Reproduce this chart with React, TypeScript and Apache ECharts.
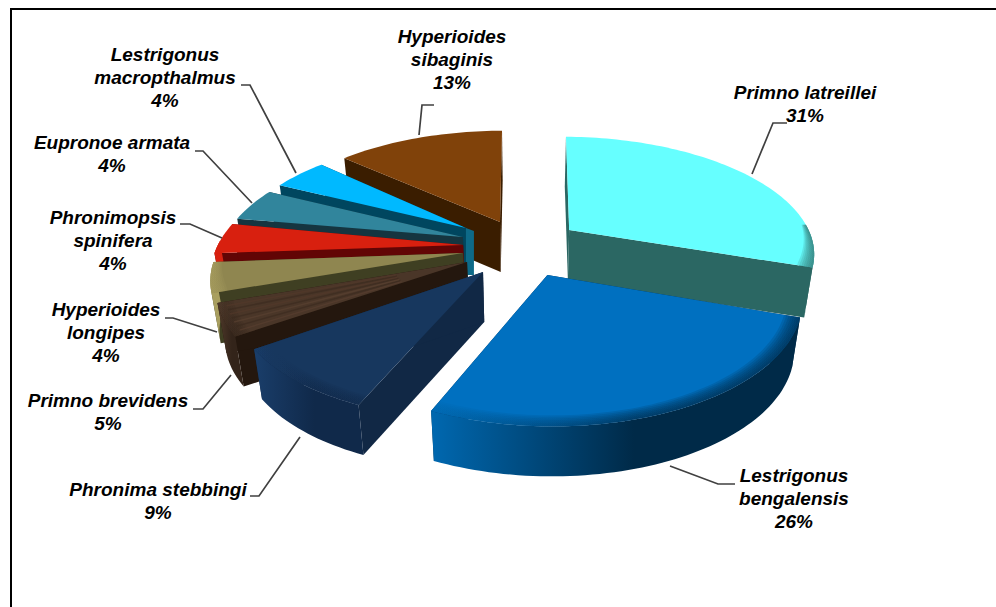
import React, { useEffect, useRef } from "react";
import * as echarts from "echarts";

const categories = [
  "Primno latreillei", "Lestrigonus\nbengalensis", "Phronima stebbingi", "Primno brevidens",
  "Hyperioides\nlongipes", "Phronimopsis\nspinifera", "Eupronoe armata",
  "Lestrigonus\nmacropthalmus", "Hyperioides\nsibaginis",
];
const shares = [31, 26, 9, 5, 4, 4, 4, 4, 13];

// drawing look, one entry per slice: [top face, radial wall, outer wall left, outer wall right]
const faceColors = [
  ["#66ffff", "#2b6763", "#2b6763", "#2b6763"],
  ["#0070c0", "#003050", "#0068b0", "#002a48"],
  ["#17375e", "#112845", "#1a3e6a", "#10294a"],
  ["#4a3628", "#24170e", "#4f3a2a", "#33241a"],
  ["#8f8650", "#3f3f22", "#a99f60", "#a99f60"],
  ["#d8200f", "#620505", "#d8200f", "#d8200f"],
  ["#31859c", "#153540", "#31859c", "#31859c"],
  ["#00b9ff", "#00465f", "#00b9ff", "#00b9ff"],
  ["#80420a", "#3a1d00", "#80420a", "#80420a"],
];
// back-to-front painting rank per slice
const zOrder = [2, 9, 8, 7, 6, 5, 4, 3, 1];
// exploded slice apex on the ground plane, in radii
const explode = [
  [0.19, 0.18], [0.09, -0.21], [-0.169, -0.187], [-0.237, -0.103],
  [-0.257, -0.026], [-0.26, 0.044], [-0.264, 0.116], [-0.255, 0.2], [-0.109, 0.257],
];
// per-slice radius and small angular corrections (degrees) of the drawn 3D model
const radiusScale = [1.03, 1.0, 0.985, 1.0, 1.02, 1.03, 1.012, 0.984, 1.032];
const angleFix = [
  [1, -2.9], [-2.6, -1.5], [-2, -2.6], [-2, -4.6],
  [-4.4, -4.3], [-4, -3.6], [-4.6, -2.7], [-2.7, -0.7], [-1.6, -0.5],
];
const CAM = { cx: 525, cy: 250, R: 240, S: 114, k: 0.18, m: 0.03, H: 50 };

function project(gx: number, gy: number, h: number) {
  const w = 1 + CAM.k * gy;
  return [CAM.cx + (CAM.R * gx) / w / (1 + CAM.m * h), CAM.cy - (CAM.S * gy) / w + CAM.H * h];
}

const labelLayout = [
  { x: 805, y: 93, line: [[787, 123], [773, 123], [752, 174]] },
  { x: 794, y: 476, line: [[735, 484], [718, 484], [670, 466]] },
  { x: 158, y: 490, line: [[250, 496], [259, 496], [300, 437]] },
  { x: 108, y: 401, line: [[193, 409], [203, 409], [231, 375]] },
  { x: 106, y: 310, line: [[165, 318], [173, 318], [217, 332]] },
  { x: 113, y: 218, line: [[180, 224], [190, 224], [222, 238]] },
  { x: 112, y: 143, line: [[195, 151], [203, 151], [252, 203]] },
  { x: 165, y: 55, line: [[241, 85], [250, 85], [296, 173]] },
  { x: 452, y: 37, line: [[434, 105], [422, 105], [419, 135]] },
];

const total = shares.reduce((a, b) => a + b, 0);

function renderSlice(params: any, api: any) {
  const i = api.value(0);
  const before = shares.slice(0, i).reduce((a, b) => a + b, 0);
  const a0 = (((before / total) * 360 + angleFix[i][0]) * Math.PI) / 180;
  const a1 = ((((before + api.value(1)) / total) * 360 + angleFix[i][1]) * Math.PI) / 180;
  const [ex, ey] = explode[i];
  const rs = radiusScale[i];
  const [top, radial, wallL, wallR] = faceColors[i];
  const z = zOrder[i] * 20;
  const N = Math.max(8, Math.round((a1 - a0) * 40));
  const angle = (t: number) => a0 + (a1 - a0) * t;
  const at = (t: number, r: number, h: number) => {
    const a = angle(t);
    return project(ex + rs * r * Math.sin(a), ey + rs * r * Math.cos(a), h);
  };
  const arc = (r: (t: number) => number, h: number, keep?: (t: number) => boolean) => {
    const out: number[][] = [];
    for (let n = 0; n <= N; n++) if (!keep || keep(n / N)) out.push(at(n / N, r(n / N), h));
    return out;
  };
  const apex = (h: number) => project(ex, ey, h);
  const children: any[] = [];
  const poly = (points: number[][], fill: any, zz: number, opacity = 1) => {
    if (points.length > 2)
      children.push({ type: "polygon", z2: z + zz, shape: { points }, style: { fill, opacity }, silent: true });
  };

  poly([apex(0), at(0, 1, 0), at(0, 1, 1), apex(1)], radial, 0);
  poly([apex(0), at(1, 1, 0), at(1, 1, 1), apex(1)], radial, 0);
  if (i === 7) {
    const a = apex(0);
    poly([[a[0], a[1]], [a[0] + 8, a[1] + 3], [a[0] + 8, a[1] + 47], [a[0], a[1] + 47]], "#0e6a88", 0);
  }
  const grad = {
    type: "linear", x: 0, y: 0, x2: 1, y2: 0,
    colorStops: [{ offset: 0, color: wallL }, { offset: 0.55, color: wallR }, { offset: 1, color: wallR }],
  };
  const front = (t: number) => Math.cos(angle(t)) < 0.05;
  const wallTop = arc(() => 1, 0, front);
  const wallBot = arc(() => 1, 1, front).reverse();
  if (wallTop.length > 1) poly([...wallTop, ...wallBot], grad, 1);
  poly([apex(0), ...arc(() => 1, 0)], top, 2);
  // soft bevel along the front part of the rim
  const rimW = (t: number) => 0.06 * Math.min(1, Math.max(0, (0.2 - Math.cos(angle(t))) / 0.5));
  const steps = 7;
  for (let s = 0; s < steps; s++) {
    const inner = arc((t) => 1 - rimW(t) * (1 - s / steps), 0, front);
    const outer = arc(() => 1, 0, front).reverse();
    if (inner.length > 1) poly([...inner, ...outer], grad, 3 + s, 0.16);
  }
  if (i === 3) {
    const cols = ["#5a4030", "#3a2a1e", "#5c4232", "#3a2a1e", "#54392a", "#3a2a1e", "#54392a"];
    cols.forEach((c, s) => {
      const t = (s + 1) / (cols.length + 1);
      const p0 = at(t, 0.3, 0);
      const p1 = at(t, 0.97, 0);
      children.push({
        type: "line", z2: z + 12, silent: true,
        shape: { x1: p0[0], y1: p0[1], x2: p1[0], y2: p1[1] },
        style: { stroke: c, lineWidth: 1.5, opacity: 0.6 },
      });
    });
  }
  return { type: "group", children };
}

export default function App() {
  const ref = useRef<HTMLDivElement>(null);
  useEffect(() => {
    const chart = echarts.init(ref.current!, undefined, { renderer: "svg" });
    const graphics: any[] = [
      { type: "polyline", z: 5, silent: true, shape: { points: [[11, 607], [11, 9], [996, 9]] }, style: { stroke: "#000", lineWidth: 2, fill: "none" } },
    ];
    categories.forEach((name, i) => {
      const l = labelLayout[i];
      graphics.push({
        type: "polyline", z: 6, silent: true, shape: { points: l.line },
        style: { stroke: "#404040", lineWidth: 1.7, fill: "none" },
      });
      graphics.push({
        type: "text", z: 7, x: l.x, y: l.y - 12, silent: true,
        style: {
          text: `${name}\n${shares[i]}%`, fill: "#000", align: "center", verticalAlign: "top",
          font: 'italic bold 19px "Liberation Sans"', lineHeight: 23,
        },
      });
    });
    chart.setOption({
      animation: false,
      backgroundColor: "#fff",
      graphic: graphics,
      series: [{
        type: "custom",
        coordinateSystem: "none",
        renderItem: renderSlice,
        data: shares.map((v, i) => [i, v]),
        silent: true,
      }],
    });
    return () => chart.dispose();
  }, []);
  return <div ref={ref} style={{ position: "fixed", left: 0, top: 0, width: 996, height: 607 }} />;
}
